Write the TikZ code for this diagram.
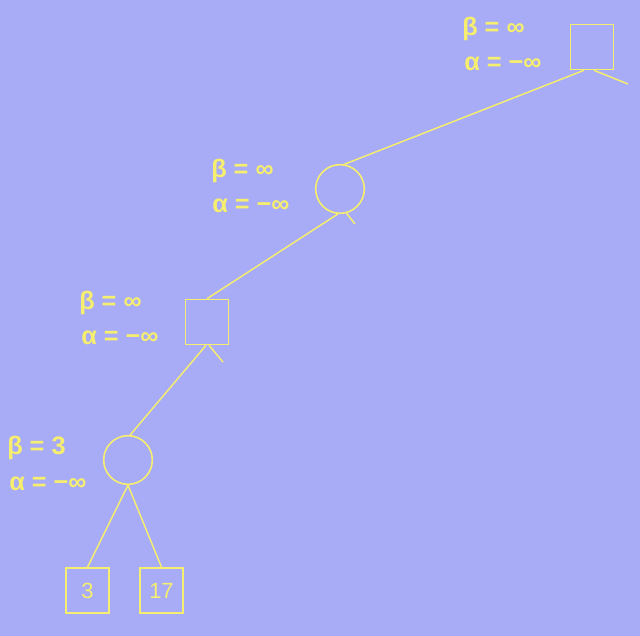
\documentclass[tikz,border=0pt]{standalone}
\usepackage{fontspec}
\setmainfont{Liberation Sans}
\usetikzlibrary{calc}
\definecolor{bg}{RGB}{168,171,246}
\definecolor{yel}{RGB}{245,238,110}
\tikzset{
  px/.style={x=0.75pt,y=-0.75pt},
  sq/.style={draw=yel,line width=1.2pt,minimum width=32.25pt,minimum height=33.75pt,inner sep=0pt,text=yel,font=\fontsize{16.5}{16.5}\selectfont},
  cir/.style={draw=yel,line width=1.2pt,circle,minimum size=36.5pt,inner sep=0pt},
  edge/.style={draw=yel,line width=1.1pt},
  lab/.style={text=yel,font=\fontsize{19}{19}\selectfont\bfseries,inner sep=0pt,anchor=west}
}
\begin{document}
\begin{tikzpicture}[px]
\fill[bg] (0,0) rectangle (640,636);
\useasboundingbox (0,0) rectangle (640,636);
\node[sq] (r) at (592,47) {};
\node[cir] (n1) at (340,189) {};
\node[sq] (n2) at (207,322) {};
\node[cir] (n3) at (128,460) {};
\node[sq] (l1) at (87.5,590.5) {3};
\node[sq] (l2) at (161.5,590.5) {17};
\coordinate (s0) at (628,84);
\coordinate (s1) at (355,224);
\coordinate (s2) at (223,362);
\draw[edge] ($(r.south)+(-8,0)$) -- (n1.80);
\draw[edge] ($(r.south)+(2,0)$) -- (s0);
\draw[edge] (n1.265) -- (n2.north);
\draw[edge] (n1.285) -- (s1);
\draw[edge] ($(n2.south)+(-1,0)$) -- (n3.85);
\draw[edge] ($(n2.south)+(2,0)$) -- (s2);
\draw[edge] (n3.south) -- (l1.north);
\draw[edge] (n3.south) -- (l2.north);
\node[lab] (b0) at (462,29) {β = ∞};
\node[lab] (a0) at (464,64) {α = −∞};
\node[lab] (b1) at (211,171) {β = ∞};
\node[lab] (a1) at (212,206) {α = −∞};
\node[lab] (b2) at (79,303) {β = ∞};
\node[lab] (a2) at (81,338) {α = −∞};
\node[lab] (b3) at (7,448) {β = 3};
\node[lab] (a3) at (9,484) {α = −∞};
\end{tikzpicture}
\end{document}
